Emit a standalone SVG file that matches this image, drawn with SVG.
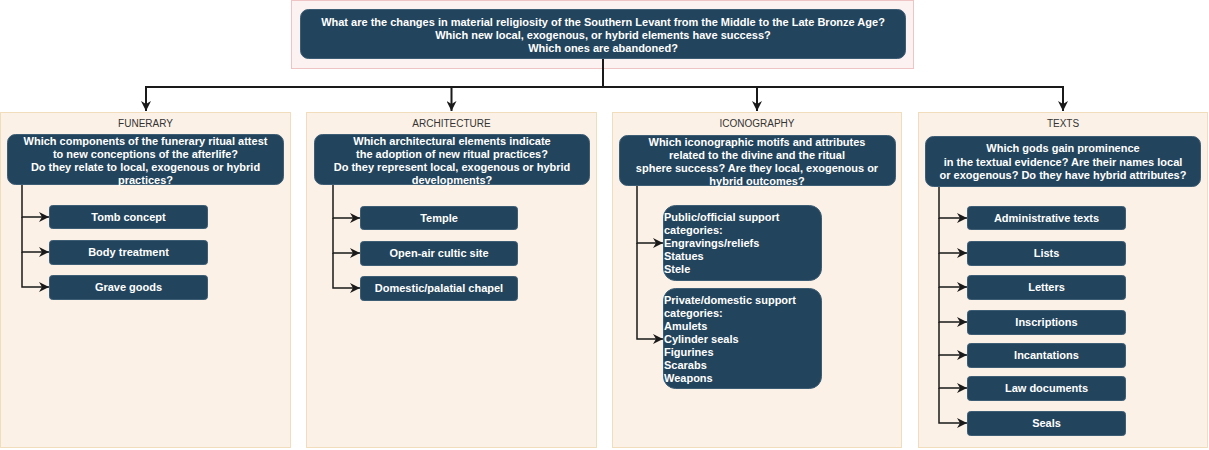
<svg xmlns="http://www.w3.org/2000/svg" width="1209" height="450" viewBox="0 0 1209 450">
<style>
.panel{fill:#fbf1e6;stroke:#f1dcbc;stroke-width:1}
.outer{fill:#fdf2f2;stroke:#efc4c4;stroke-width:1}
.dark{fill:#23445d;stroke:#3d5d75;stroke-width:1}
.t{font-family:"Liberation Sans",Arial,sans-serif;font-size:11px;font-weight:bold;fill:#ffffff}
.c{text-anchor:middle}
.title{font-family:"Liberation Sans",Arial,sans-serif;font-size:10px;fill:#333333;text-anchor:middle}
.edge{fill:none;stroke:#1a1a1a;stroke-width:2}
.sub{fill:none;stroke:#1a1a1a;stroke-width:1.5}
</style>
<defs>
<marker id="arr" markerUnits="userSpaceOnUse" markerWidth="10" markerHeight="10" viewBox="0 0 10 10" refX="10" refY="5" orient="auto">
<path d="M0,0 L10,5 L0,10 L3,5 z" fill="#1a1a1a"/>
</marker>
</defs>

<g id="root">
<rect class="outer" x="291.5" y="0.5" width="622" height="68"/>
<rect class="dark" x="300.5" y="9.5" width="605" height="49" rx="8"/>
<text class="t c" x="603" y="25.5">What are the changes in material religiosity of the Southern Levant from the Middle to the Late Bronze Age?</text>
<text class="t c" x="603" y="38.5">Which new local, exogenous, or hybrid elements have success?</text>
<text class="t c" x="603" y="51.5">Which ones are abandoned?</text>
</g>

<g id="panel-funerary">
<rect class="panel" x="0.5" y="112.5" width="290" height="335"/>
<text class="title" x="145.5" y="127">FUNERARY</text>
</g>
<g id="panel-architecture">
<rect class="panel" x="306.5" y="112.5" width="290" height="335"/>
<text class="title" x="451.5" y="127">ARCHITECTURE</text>
</g>
<g id="panel-iconography">
<rect class="panel" x="612.5" y="112.5" width="289" height="335"/>
<text class="title" x="757" y="127">ICONOGRAPHY</text>
</g>
<g id="panel-texts">
<rect class="panel" x="918.5" y="112.5" width="289" height="335"/>
<text class="title" x="1063" y="127">TEXTS</text>
</g>

<g id="connectors">
<path class="edge" d="M603,59 V87 H146 V111" marker-end="url(#arr)"/>
<path class="edge" d="M603,87 H451.5 V111" marker-end="url(#arr)"/>
<path class="edge" d="M603,87 H757 V111" marker-end="url(#arr)"/>
<path class="edge" d="M603,87 H1063 V111" marker-end="url(#arr)"/>

<path class="sub" d="M22,184 V217 H49" marker-end="url(#arr)"/>
<path class="sub" d="M22,217 V252 H49" marker-end="url(#arr)"/>
<path class="sub" d="M22,252 V287 H49" marker-end="url(#arr)"/>

<path class="sub" d="M333,184 V218 H360" marker-end="url(#arr)"/>
<path class="sub" d="M333,218 V253 H360" marker-end="url(#arr)"/>
<path class="sub" d="M333,253 V288 H360" marker-end="url(#arr)"/>

<path class="sub" d="M637,184 V243 H663" marker-end="url(#arr)"/>
<path class="sub" d="M637,243 V339 H663" marker-end="url(#arr)"/>

<path class="sub" d="M939,186 V218 H967" marker-end="url(#arr)"/>
<path class="sub" d="M939,218 V253 H967" marker-end="url(#arr)"/>
<path class="sub" d="M939,253 V287 H967" marker-end="url(#arr)"/>
<path class="sub" d="M939,287 V322 H967" marker-end="url(#arr)"/>
<path class="sub" d="M939,322 V355 H967" marker-end="url(#arr)"/>
<path class="sub" d="M939,355 V388 H967" marker-end="url(#arr)"/>
<path class="sub" d="M939,388 V423 H967" marker-end="url(#arr)"/>
</g>

<g id="q-funerary">
<rect class="dark" x="7.5" y="134.5" width="276" height="50" rx="8"/>
<text class="t c" x="145.5" y="145">Which components of the funerary ritual attest</text>
<text class="t c" x="145.5" y="158">to new conceptions of the afterlife?</text>
<text class="t c" x="145.5" y="171">Do they relate to local, exogenous or hybrid</text>
<text class="t c" x="145.5" y="184">practices?</text>
</g>
<g id="q-architecture">
<rect class="dark" x="314.5" y="134.5" width="275" height="50" rx="8"/>
<text class="t c" x="452" y="145">Which architectural elements indicate</text>
<text class="t c" x="452" y="158">the adoption of new ritual practices?</text>
<text class="t c" x="452" y="171">Do they represent local, exogenous or hybrid</text>
<text class="t c" x="452" y="184">developments?</text>
</g>
<g id="q-iconography">
<rect class="dark" x="619.5" y="135.5" width="276" height="50" rx="8"/>
<text class="t c" x="757" y="145.5">Which iconographic motifs and attributes</text>
<text class="t c" x="757" y="158.5">related to the divine and the ritual</text>
<text class="t c" x="757" y="171.5">sphere success? Are they local, exogenous or</text>
<text class="t c" x="757" y="184.5">hybrid outcomes?</text>
</g>
<g id="q-texts">
<rect class="dark" x="925.5" y="136.5" width="275" height="50" rx="8"/>
<text class="t c" x="1063" y="152">Which gods gain prominence</text>
<text class="t c" x="1063" y="165.5">in the textual evidence? Are their names local</text>
<text class="t c" x="1063" y="178.5">or exogenous? Do they have hybrid attributes?</text>
</g>

<g id="f-tomb"><rect class="dark" x="49.5" y="205.5" width="158" height="23" rx="3"/><text class="t c" x="128.5" y="221">Tomb concept</text></g>
<g id="f-body"><rect class="dark" x="49.5" y="240.5" width="158" height="24" rx="3"/><text class="t c" x="128.5" y="256">Body treatment</text></g>
<g id="f-grave"><rect class="dark" x="49.5" y="275.5" width="158" height="24" rx="3"/><text class="t c" x="128.5" y="291">Grave goods</text></g>

<g id="a-temple"><rect class="dark" x="360.5" y="206.5" width="157" height="23" rx="3"/><text class="t c" x="439" y="222">Temple</text></g>
<g id="a-openair"><rect class="dark" x="360.5" y="241.5" width="157" height="24" rx="3"/><text class="t c" x="439" y="257">Open-air cultic site</text></g>
<g id="a-domestic"><rect class="dark" x="360.5" y="276.5" width="157" height="24" rx="3"/><text class="t c" x="439" y="292">Domestic/palatial chapel</text></g>

<g id="i-public">
<rect class="dark" x="663.5" y="205.5" width="158" height="75" rx="12"/>
<text class="t" x="664" y="221">Public/official support</text>
<text class="t" x="664" y="234">categories:</text>
<text class="t" x="664" y="247">Engravings/reliefs</text>
<text class="t" x="664" y="260">Statues</text>
<text class="t" x="664" y="273">Stele</text>
</g>
<g id="i-private">
<rect class="dark" x="663.5" y="288.5" width="158" height="100" rx="12"/>
<text class="t" x="664" y="304">Private/domestic support</text>
<text class="t" x="664" y="317">categories:</text>
<text class="t" x="664" y="330">Amulets</text>
<text class="t" x="664" y="343">Cylinder seals</text>
<text class="t" x="664" y="356">Figurines</text>
<text class="t" x="664" y="369">Scarabs</text>
<text class="t" x="664" y="382">Weapons</text>
</g>

<g id="t-admin"><rect class="dark" x="967.5" y="206.5" width="158" height="23" rx="3"/><text class="t c" x="1046.5" y="222">Administrative texts</text></g>
<g id="t-lists"><rect class="dark" x="967.5" y="241.5" width="158" height="24" rx="3"/><text class="t c" x="1046.5" y="257">Lists</text></g>
<g id="t-letters"><rect class="dark" x="967.5" y="275.5" width="158" height="24" rx="3"/><text class="t c" x="1046.5" y="291">Letters</text></g>
<g id="t-inscriptions"><rect class="dark" x="967.5" y="310.5" width="158" height="24" rx="3"/><text class="t c" x="1046.5" y="326">Inscriptions</text></g>
<g id="t-incantations"><rect class="dark" x="967.5" y="343.5" width="158" height="24" rx="3"/><text class="t c" x="1046.5" y="359">Incantations</text></g>
<g id="t-law"><rect class="dark" x="967.5" y="376.5" width="158" height="24" rx="3"/><text class="t c" x="1046.5" y="392">Law documents</text></g>
<g id="t-seals"><rect class="dark" x="967.5" y="411.5" width="158" height="24" rx="3"/><text class="t c" x="1046.5" y="427">Seals</text></g>
</svg>
